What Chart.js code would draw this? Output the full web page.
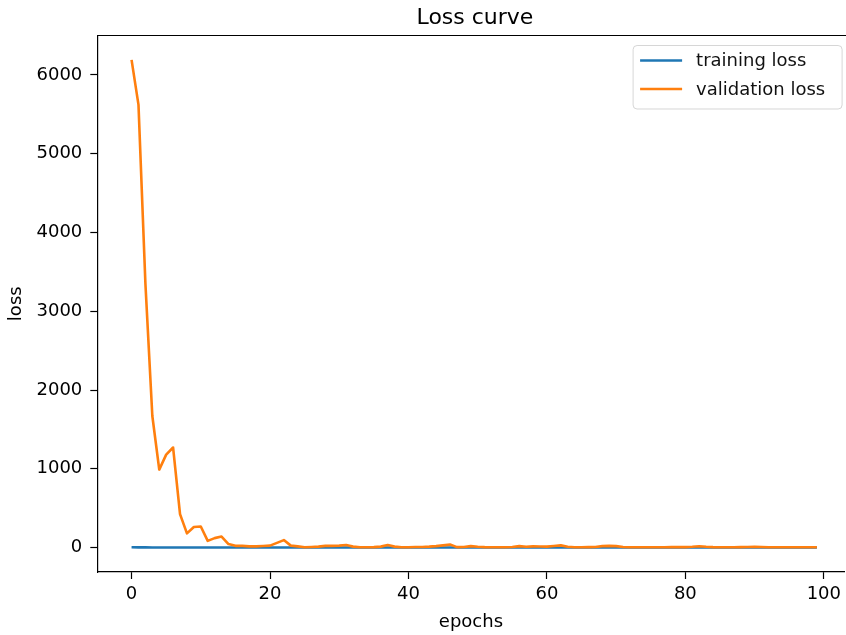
<!DOCTYPE html>
<html>
<head>
<meta charset="utf-8">
<title>Loss curve</title>
<script src="https://cdn.jsdelivr.net/npm/chart.js@4.4.0/dist/chart.umd.min.js"></script>
<style>
  html, body { margin: 0; padding: 0; background: #fff; overflow: hidden; }
</style>
</head>
<body>
<canvas id="lossChart" width="846" height="635"></canvas>
<script>
const chartTitle = 'Loss curve';
const seriesNames = ['training loss', 'validation loss'];
const epochs = Array.from({ length: 100 }, (_, i) => i);

const trainingLoss = [
  4.2, 2.9, 2.3, 1.9, 1.7, 1.5, 1.4, 1.3, 1.2, 1.1,
  1.0, 1.0, 0.9, 0.9, 0.8, 0.8, 0.8, 0.7, 0.7, 0.7,
  0.7, 0.6, 0.6, 0.6, 0.6, 0.6, 0.5, 0.5, 0.5, 0.5,
  0.5, 0.5, 0.5, 0.4, 0.4, 0.4, 0.4, 0.4, 0.4, 0.4,
  0.4, 0.4, 0.4, 0.3, 0.3, 0.3, 0.3, 0.3, 0.3, 0.3,
  0.3, 0.3, 0.3, 0.3, 0.3, 0.3, 0.3, 0.3, 0.3, 0.3,
  0.2, 0.2, 0.2, 0.2, 0.2, 0.2, 0.2, 0.2, 0.2, 0.2,
  0.2, 0.2, 0.2, 0.2, 0.2, 0.2, 0.2, 0.2, 0.2, 0.2,
  0.2, 0.2, 0.2, 0.2, 0.2, 0.2, 0.2, 0.2, 0.2, 0.2,
  0.2, 0.2, 0.2, 0.2, 0.2, 0.2, 0.2, 0.2, 0.2, 0.2
];

const validationLoss = [
  6190, 5620, 3350, 1670, 990, 1180, 1270, 425, 180, 262,
  268, 85, 120, 140, 45, 22, 22, 15, 15, 20,
  25, 60, 95, 25, 15, 5, 8, 12, 22, 22,
  25, 32, 12, 5, 5, 6, 12, 32, 12, 5,
  5, 8, 8, 12, 18, 28, 38, 6, 8, 18,
  10, 6, 5, 5, 5, 8, 18, 10, 15, 14,
  12, 20, 28, 10, 5, 5, 6, 8, 18, 22,
  18, 8, 5, 4, 4, 4, 5, 5, 6, 8,
  6, 10, 16, 10, 6, 5, 5, 4, 6, 8,
  10, 8, 5, 4, 4, 5, 4, 4, 4, 4
];

const xTicks = [0, 20, 40, 60, 80, 100];
const yTicks = [0, 1000, 2000, 3000, 4000, 5000, 6000];

const colours = ['#1f77b4', '#ff7f0e'];
const fontFamily = "'DejaVu Sans', sans-serif";

// the original figure is cut off on the right, so the axes run to the canvas edge
// (full axes centre sits at x = 475, legend box ends ~10px before the hidden right spine)
const fullAxesRight = 852.6;

const framePlugin = {
  id: 'frame',
  afterDatasetsDraw(chart) {
    const ctx = chart.ctx;
    const area = chart.chartArea;
    ctx.save();

    ctx.strokeStyle = '#000';
    ctx.lineWidth = 1.2;
    ctx.beginPath();
    ctx.moveTo(area.left, area.top);
    ctx.lineTo(chart.width, area.top);
    ctx.stroke();

    ctx.fillStyle = '#000';
    ctx.font = '22px ' + fontFamily;
    ctx.textAlign = 'center';
    ctx.textBaseline = 'alphabetic';
    ctx.fillText(chartTitle, (area.left + fullAxesRight) / 2, 24);

    // legend
    const boxX = fullAxesRight - 219.5;
    const boxY = area.top + 10;
    const boxW = 209;
    const boxH = 63.5;
    ctx.beginPath();
    ctx.roundRect(boxX, boxY, boxW, boxH, 4);
    ctx.fillStyle = 'rgba(255,255,255,0.8)';
    ctx.fill();
    ctx.strokeStyle = 'rgba(204,204,204,0.8)';
    ctx.lineWidth = 1;
    ctx.stroke();

    ctx.font = '18px ' + fontFamily;
    ctx.textAlign = 'left';
    ctx.textBaseline = 'middle';
    seriesNames.forEach((name, i) => {
      const y = boxY + 15 + i * 28.6;
      ctx.strokeStyle = colours[i];
      ctx.lineWidth = 2.5;
      ctx.beginPath();
      ctx.moveTo(boxX + 7, y);
      ctx.lineTo(boxX + 49, y);
      ctx.stroke();
      ctx.fillStyle = '#111';
      ctx.fillText(name, boxX + 63, y + 1);
    });
    ctx.restore();
  }
};

const ctx = document.getElementById('lossChart');

new Chart(ctx, {
  type: 'line',
  data: {
    labels: epochs,
    datasets: [
      {
        label: seriesNames[0],
        data: epochs.map((e, i) => ({ x: e, y: trainingLoss[i] })),
        borderColor: colours[0],
        borderWidth: 2.6,
        pointRadius: 0,
        tension: 0,
        borderJoinStyle: 'round',
        order: 1,
      },
      {
        label: seriesNames[1],
        data: epochs.map((e, i) => ({ x: e, y: validationLoss[i] })),
        borderColor: colours[1],
        borderWidth: 2.6,
        pointRadius: 0,
        tension: 0,
        borderJoinStyle: 'round',
        order: 0,
      },
    ],
  },
  options: {
    responsive: false,
    animation: false,
    layout: {
      padding: { top: 35.5, right: 0, left: 0, bottom: 0 },
    },
    plugins: {
      legend: { display: false },
      title: { display: false },
      tooltip: { enabled: false },
    },
    scales: {
      x: {
        type: 'linear',
        min: -4.95,
        max: 103.0,
        afterBuildTicks: (scale) => {
          scale.ticks = xTicks.map((v) => ({ value: v }));
        },
        afterFit: (scale) => {
          scale.height = 63;
        },
        grid: {
          drawOnChartArea: false,
          drawTicks: true,
          tickLength: 7,
          tickColor: '#000',
          tickWidth: 1.2,
        },
        border: { color: '#000', width: 1.2 },
        ticks: {
          color: '#000',
          font: { family: fontFamily, size: 18 },
          padding: 5,
          maxRotation: 0,
          autoSkip: false,
          callback: (v) => String(v),
        },
        title: {
          display: true,
          text: 'epochs',
          color: '#000',
          font: { family: fontFamily, size: 18 },
          padding: { top: 0, bottom: 2 },
        },
      },
      y: {
        type: 'linear',
        min: -310,
        max: 6500,
        afterBuildTicks: (scale) => {
          scale.ticks = yTicks.map((v) => ({ value: v }));
        },
        afterFit: (scale) => {
          scale.width = 97.3;
        },
        grid: {
          drawOnChartArea: false,
          drawTicks: true,
          tickLength: 7,
          tickColor: '#000',
          tickWidth: 1.2,
        },
        border: { color: '#000', width: 1.2 },
        ticks: {
          color: '#000',
          font: { family: fontFamily, size: 18 },
          padding: 8,
          autoSkip: false,
          callback: (v) => String(v),
        },
        title: {
          display: true,
          text: 'loss',
          color: '#000',
          font: { family: fontFamily, size: 18 },
          padding: { top: 6, bottom: 0 },
        },
      },
    },
  },
  plugins: [framePlugin],
});
</script>
</body>
</html>
